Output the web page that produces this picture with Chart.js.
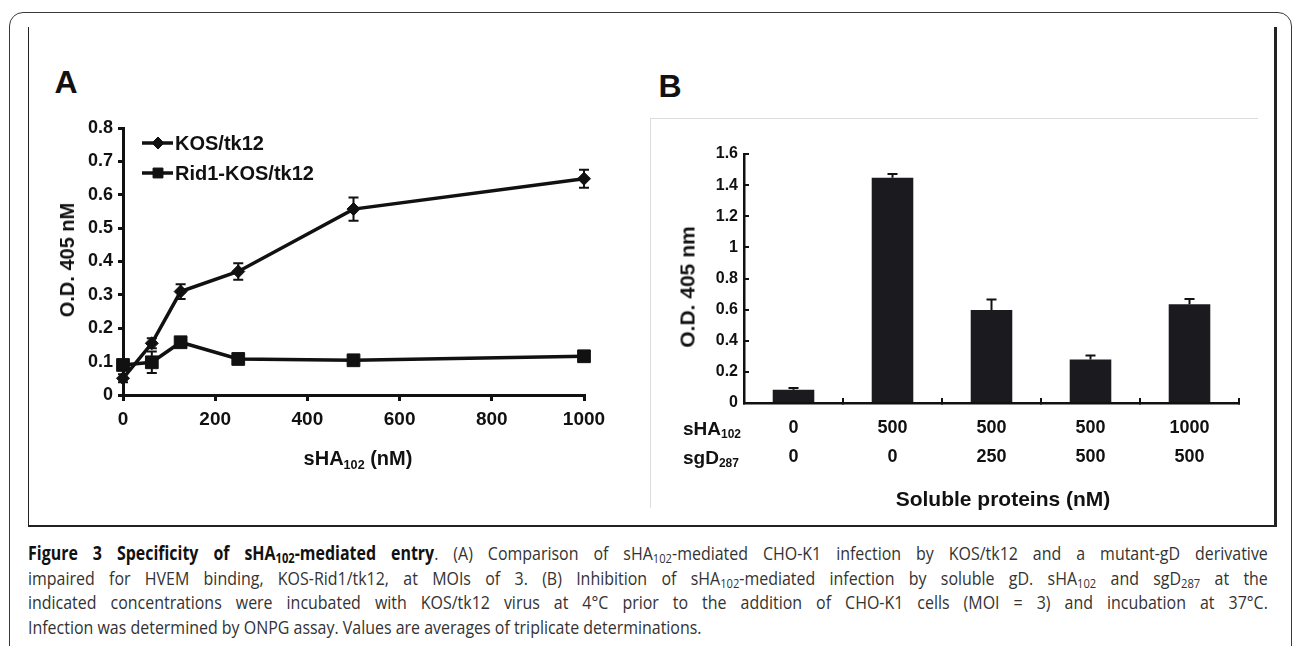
<!DOCTYPE html>
<html><head><meta charset="utf-8">
<script src="https://cdn.jsdelivr.net/npm/chart.js@4.4.0/dist/chart.umd.min.js"></script>
<style>
html,body{margin:0;padding:0;background:#fff;width:1295px;height:646px;overflow:hidden;position:relative;font-family:"Liberation Sans",Arial,sans-serif;}
.abs{position:absolute;}
#outer{left:9px;top:12px;width:1281px;height:700px;border:1.5px solid #3a3a3a;border-radius:14px;}
#inner{left:28px;top:27px;width:1245px;height:498px;border-left:1.5px solid #222;border-right:3px solid #222;border-bottom:2px solid #222;}
#frameB{left:650px;top:118px;width:607px;height:389px;border-top:1px solid #dcdcdc;border-left:1px solid #dcdcdc;}
.t{position:absolute;font-weight:bold;color:#111;white-space:nowrap;transform:translate(-50%,-50%);line-height:1;}
.r{position:absolute;font-weight:bold;color:#111;white-space:nowrap;transform:translate(0,-50%);line-height:1;}
.t sub,.r sub{font-size:0.63em;vertical-align:-0.3em;line-height:0;}
#cap{left:28px;top:541px;width:1476px;font-family:"Open Sans",sans-serif;font-size:19px;line-height:24.7px;color:#333;transform:scaleX(0.84);transform-origin:0 0;}
#cap div{text-align:justify;text-align-last:justify;}
#cap div.last{text-align:left;text-align-last:left;}
#cap b{color:#111;}
#cap sub{font-size:0.7em;vertical-align:-0.25em;line-height:0;}
canvas{position:absolute;}
</style></head>
<body>
<div id="outer" class="abs"></div>
<div id="inner" class="abs"></div>
<div id="frameB" class="abs"></div>

<div class="t" style="left:66px;top:82px;font-size:32px;">A</div>
<div class="t" style="left:670px;top:86px;font-size:32px;">B</div>

<canvas id="ca" width="610" height="400" style="left:30px;top:90px;width:610px;height:400px;"></canvas>
<canvas id="cb" width="620" height="370" style="left:650px;top:120px;width:620px;height:370px;"></canvas>

<div class="t" style="left:67px;top:260px;font-size:20px;transform:translate(-50%,-50%) rotate(-90deg);">O.D. 405 nM</div>
<div class="t" style="left:358px;top:458px;font-size:20px;">sHA<sub>102</sub> (nM)</div>

<div class="t" style="left:687px;top:287px;font-size:21px;transform:translate(-50%,-50%) rotate(-90deg);">O.D. 405 nm</div>
<div class="r" style="left:683px;top:428px;font-size:19px;">sHA<sub>102</sub></div>
<div class="r" style="left:683px;top:457px;font-size:19px;">sgD<sub>287</sub></div>
<div class="t" style="left:1003px;top:498px;font-size:21px;">Soluble proteins (nM)</div>

<div id="cap" class="abs">
<div><b>Figure 3 Specificity of sHA<sub>102</sub>-mediated entry</b>. (A) Comparison of sHA<sub>102</sub>-mediated CHO-K1 infection by KOS/tk12 and a mutant-gD derivative</div>
<div>impaired for HVEM binding, KOS-Rid1/tk12, at MOIs of 3. (B) Inhibition of sHA<sub>102</sub>-mediated infection by soluble gD. sHA<sub>102</sub> and sgD<sub>287</sub> at the</div>
<div>indicated concentrations were incubated with KOS/tk12 virus at 4°C prior to the addition of CHO-K1 cells (MOI = 3) and incubation at 37°C.</div>
<div class="last">Infection was determined by ONPG assay. Values are averages of triplicate determinations.</div>
</div>

<script>
// ---------- Panel A data ----------
const concA = [0, 62.5, 125, 250, 500, 1000];
const kosName = 'KOS/tk12';
const kosVals = [0.05, 0.155, 0.31, 0.37, 0.557, 0.648];
const kosErr  = [0.012, 0.015, 0.022, 0.025, 0.035, 0.027];
const ridName = 'Rid1-KOS/tk12';
const ridVals = [0.09, 0.098, 0.158, 0.108, 0.104, 0.116];
const ridErr  = [0.01, 0.032, 0.012, 0.006, 0.006, 0.008];
const aXTicks = [0, 200, 400, 600, 800, 1000];
const aXTickLabels = ['0', '200', '400', '600', '800', '1000'];
const aYTicks = [0, 0.1, 0.2, 0.3, 0.4, 0.5, 0.6, 0.7, 0.8];
const aYTickLabels = ['0', '0.1', '0.2', '0.3', '0.4', '0.5', '0.6', '0.7', '0.8'];

// ---------- Panel B data ----------
const sha102 = ['0', '500', '500', '500', '1000'];
const sgd287 = ['0', '0', '250', '500', '500'];
const odB    = [0.085, 1.447, 0.597, 0.28, 0.634];
const errB   = [0.012, 0.025, 0.068, 0.025, 0.035];
const bYTicks = [0, 0.2, 0.4, 0.6, 0.8, 1, 1.2, 1.4, 1.6];
const bYTickLabels = ['0', '0.2', '0.4', '0.6', '0.8', '1', '1.2', '1.4', '1.6'];

const INK = '#111';
const FONT = '"Liberation Sans", Arial, sans-serif';

const errorBars = {
  id: 'errorBars',
  afterDatasetsDraw(chart) {
    const ctx = chart.ctx;
    chart.data.datasets.forEach((ds, i) => {
      if (!ds.errors) return;
      const meta = chart.getDatasetMeta(i);
      const yS = chart.scales[meta.yAxisID];
      meta.data.forEach((el, j) => {
        const d = ds.data[j];
        const val = (typeof d === 'object') ? d.y : d;
        const e = ds.errors[j];
        const x = el.x;
        const cap = ds.errorCap || 5;
        const yTop = yS.getPixelForValue(val + e);
        const yBot = ds.errorPlusOnly ? el.y : yS.getPixelForValue(val - e);
        ctx.save();
        ctx.strokeStyle = INK;
        ctx.lineWidth = ds.errorWidth || 2;
        ctx.beginPath();
        ctx.moveTo(x, yTop); ctx.lineTo(x, yBot);
        ctx.moveTo(x - cap, yTop); ctx.lineTo(x + cap, yTop);
        if (!ds.errorPlusOnly) { ctx.moveTo(x - cap, yBot); ctx.lineTo(x + cap, yBot); }
        ctx.stroke();
        ctx.restore();
      });
    });
  }
};

const legendA = {
  id: 'legendA',
  afterDraw(chart) {
    const ctx = chart.ctx;
    const rows = [53, 83];
    chart.data.datasets.forEach((ds, i) => {
      const y = rows[i];
      ctx.save();
      ctx.strokeStyle = INK; ctx.fillStyle = INK; ctx.lineWidth = 3.5;
      ctx.beginPath(); ctx.moveTo(112, y); ctx.lineTo(143, y); ctx.stroke();
      ctx.lineWidth = 1;
      Chart.helpers.drawPoint(ctx, {pointStyle: ds.pointStyle, radius: ds.legendRadius, borderWidth: 1, rotation: 0}, 128, y);
      ctx.font = 'bold 20px ' + FONT;
      ctx.textBaseline = 'middle';
      ctx.textAlign = 'left';
      ctx.fillText(ds.label, 145, y + 1);
      ctx.restore();
    });
  }
};

const labelFrom = (vals, labels) => (v) => {
  const k = vals.findIndex(t => Math.abs(t - v) < 1e-9);
  return k >= 0 ? labels[k] : '';
};

new Chart(document.getElementById('ca'), {
  type: 'line',
  data: {
    datasets: [
      { label: kosName, data: concA.map((c, i) => ({x: c, y: kosVals[i]})), errors: kosErr, errorCap: 5,
        borderColor: INK, backgroundColor: INK, borderWidth: 3.5, tension: 0,
        pointStyle: 'rectRot', pointRadius: 6.5, pointBorderWidth: 1, legendRadius: 6, clip: false },
      { label: ridName, data: concA.map((c, i) => ({x: c, y: ridVals[i]})), errors: ridErr, errorCap: 5,
        borderColor: INK, backgroundColor: INK, borderWidth: 3.5, tension: 0,
        pointStyle: 'rect', pointRadius: 9, pointBorderWidth: 1, legendRadius: 7, clip: false }
    ]
  },
  options: {
    responsive: false, animation: false, devicePixelRatio: 1,
    layout: { padding: { left: 0, top: 38, right: 56, bottom: 0 } },
    plugins: { legend: { display: false }, tooltip: { enabled: false } },
    scales: {
      x: {
        type: 'linear', min: 0, max: 1000,
        afterBuildTicks: s => { s.ticks = aXTicks.map(v => ({value: v})); },
        afterFit: s => { s.height = 95; },
        border: { color: INK, width: 3 },
        grid: { drawOnChartArea: false, drawTicks: true, tickLength: 6, color: INK, lineWidth: 3 },
        ticks: { color: INK, font: { family: FONT, size: 19, weight: 'bold' }, padding: 7, maxRotation: 0,
                 callback: labelFrom(aXTicks, aXTickLabels) }
      },
      y: {
        min: 0, max: 0.8,
        afterBuildTicks: s => { s.ticks = aYTicks.map(v => ({value: v})); },
        afterFit: s => { s.width = 93; },
        border: { color: INK, width: 3 },
        grid: { drawOnChartArea: false, drawTicks: true, tickLength: 5, color: INK, lineWidth: 3 },
        ticks: { color: INK, font: { family: FONT, size: 18, weight: 'bold' }, padding: 5,
                 callback: labelFrom(aYTicks, aYTickLabels) }
      }
    }
  },
  plugins: [errorBars, legendA]
});

new Chart(document.getElementById('cb'), {
  type: 'bar',
  data: {
    labels: sha102.map((s, i) => [s, sgd287[i]]),
    datasets: [
      { label: 'O.D. 405 nm', data: odB, errors: errB, errorPlusOnly: true, errorCap: 5,
        backgroundColor: '#1b1a1e', borderColor: '#111', borderWidth: 0,
        barPercentage: 0.42, categoryPercentage: 1.0 }
    ]
  },
  options: {
    responsive: false, animation: false, devicePixelRatio: 1,
    layout: { padding: { left: 0, top: 34, right: 31, bottom: 0 } },
    plugins: { legend: { display: false }, tooltip: { enabled: false } },
    scales: {
      x: {
        afterFit: s => { s.height = 87; },
        border: { color: INK, width: 2.5 },
        grid: { offset: true, drawOnChartArea: false, drawTicks: true, tickLength: -5, color: INK, lineWidth: 2 },
        ticks: { color: INK, font: { family: FONT, size: 18, weight: 'bold', lineHeight: '29.5px' }, padding: 15, maxRotation: 0 }
      },
      y: {
        min: 0, max: 1.6,
        afterBuildTicks: s => { s.ticks = bYTicks.map(v => ({value: v})); },
        afterFit: s => { s.width = 94; },
        border: { color: INK, width: 2.5 },
        grid: { drawOnChartArea: false, drawTicks: true, tickLength: -5, color: INK, lineWidth: 2 },
        ticks: { color: INK, font: { family: FONT, size: 16, weight: 'bold' }, padding: 11,
                 callback: labelFrom(bYTicks, bYTickLabels) }
      }
    }
  },
  plugins: [errorBars]
});
</script>
</body></html>
